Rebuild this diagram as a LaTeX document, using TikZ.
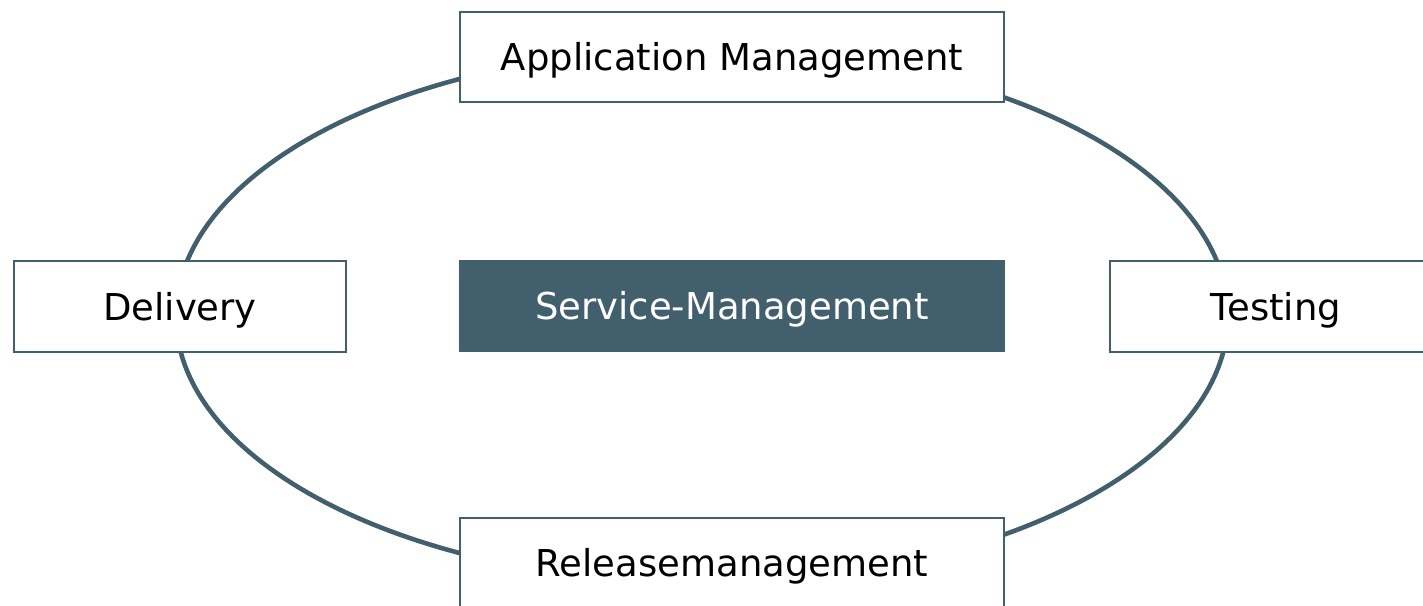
\documentclass[tikz,border=0pt]{standalone}
\usepackage{fontspec}
\setmainfont{DejaVu Sans}
\definecolor{slate}{HTML}{425F6E}
\begin{document}
\begin{tikzpicture}[x=1pt,y=-1pt,
  ring/.style={draw=slate,line width=4.6pt},
  label font/.style={font=\fontsize{37}{37}\selectfont,text height=27pt,text depth=0pt},
  stage/.style={draw=slate,line width=1.5pt,fill=white,rectangle,inner sep=0pt,label font},
  core/.style={fill=slate,rectangle,inner sep=0pt,text=white,label font}]
  \useasboundingbox (0,0) rectangle (1423,605);
  % the cycle behind the stages
  \coordinate (hub) at (702,316);
  \draw[ring] (hub) ellipse [x radius=526, y radius=267];
  % stages on the cycle
  \node[stage,minimum width=544pt,minimum height=90pt] (app) at (732,57) {Application Management};
  \node[stage,minimum width=332pt,minimum height=91pt] (del) at (180,306.5) {Delivery};
  \node[stage,minimum width=332pt,minimum height=91pt] (test) at (1276,306.5) {Testing};
  \node[stage,minimum width=544pt,minimum height=90pt] (rel) at (732,563) {Releasemanagement};
  % centre block
  \node[core,minimum width=546pt,minimum height=92pt] (svc) at (732,306) {Service-Management};
\end{tikzpicture}
\end{document}
